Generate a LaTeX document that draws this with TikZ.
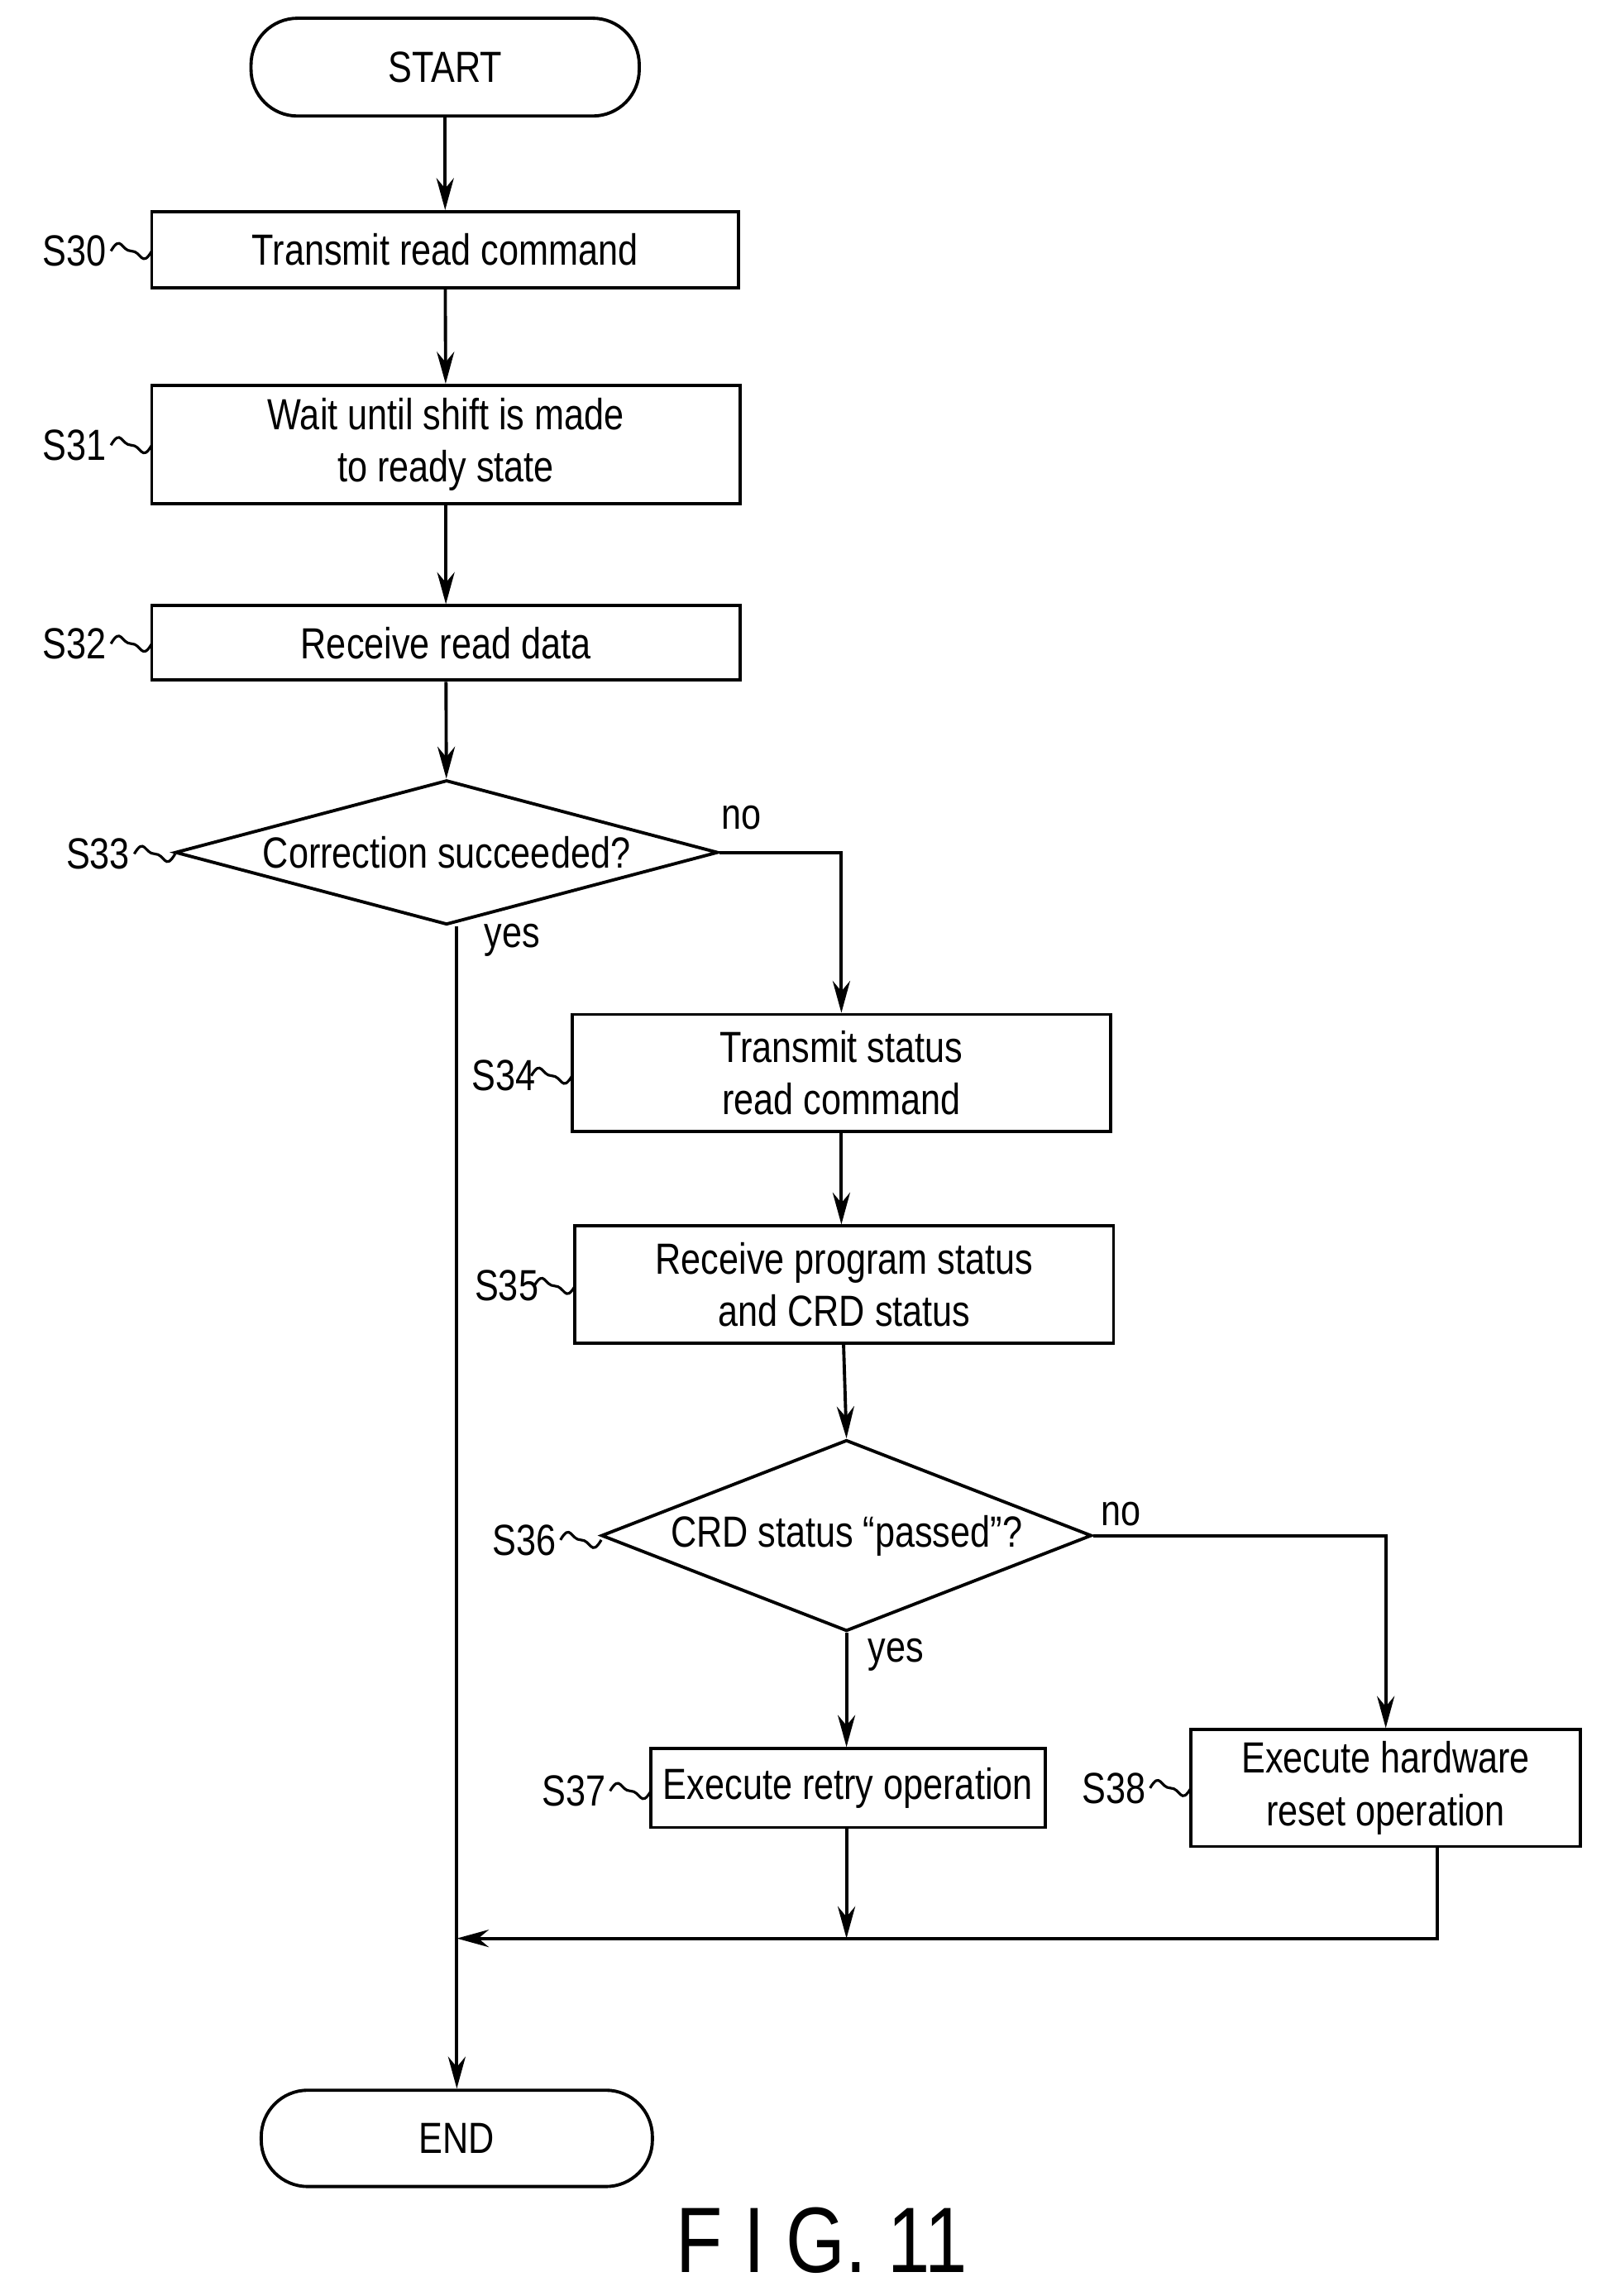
\documentclass[tikz,border=0pt]{standalone}
\usepackage{fontspec}
\setmainfont[FakeStretch=0.82]{Liberation Sans}
\usetikzlibrary{shapes.geometric,arrows.meta}
\begin{document}
\begin{tikzpicture}[x=0.01765cm,y=-0.01765cm,line width=1.1pt,
  box/.style={draw,align=center,inner sep=0pt},
  term/.style={draw,rounded corners=16pt,inner sep=0pt},
  arr/.style={-{Stealth[length=11pt,width=6pt]}},
  wave/.style={line width=0.9pt}]
\useasboundingbox (0,0) rectangle (1100,1573);
\tikzset{every node/.append style={font=\fontsize{15}{18}\selectfont}}
\newcommand{\wv}[1]{\draw[wave] #1 ++(-28,0) .. controls ++(7,-12) and ++(-7,0) .. ++(14,0) .. controls ++(7,0) and ++(-7,12) .. ++(14,0);}
\node[term,minimum width=266*0.01765cm,minimum height=67*0.01765cm] (st) at (305,46) {START};
\node[box,minimum width=402*0.01765cm,minimum height=52*0.01765cm] (s30) at (305,171) {Transmit read command};
\node[box,minimum width=403*0.01765cm,minimum height=81*0.01765cm] (s31) at (305.5,304.5) {Wait until shift is made\\to ready state};
\node[box,minimum width=403*0.01765cm,minimum height=51*0.01765cm] (s32) at (305.5,440.5) {Receive read data};
\node[diamond,draw,aspect=3.75,inner sep=0pt,minimum width=372*0.01765cm,minimum height=99*0.01765cm] (s33) at (306,584) {Correction succeeded?};
\node[box,minimum width=369*0.01765cm,minimum height=80*0.01765cm] (s34) at (576.5,735) {Transmit status\\read command};
\node[box,minimum width=369*0.01765cm,minimum height=80*0.01765cm] (s35) at (578.5,880) {Receive program status\\and CRD status};
\node[diamond,draw,aspect=2.56,inner sep=0pt,minimum width=336*0.01765cm,minimum height=131*0.01765cm] (s36) at (580,1052) {CRD status “passed”?};
\node[box,minimum width=270*0.01765cm,minimum height=54*0.01765cm] (s37) at (581,1225) {Execute retry operation};
\node[box,minimum width=267*0.01765cm,minimum height=80*0.01765cm] (s38) at (949.5,1225) {Execute hardware\\reset operation};
\node[term,minimum width=268*0.01765cm,minimum height=66*0.01765cm] (en) at (313,1465) {END};
% labels
\node[anchor=east,inner sep=1pt] (l30) at (76,172) {S30}; \wv{(104,172)}
\node[anchor=east,inner sep=1pt] (l31) at (76,305) {S31}; \wv{(104,305)}
\node[anchor=east,inner sep=1pt] (l32) at (76,441) {S32}; \wv{(104,441)}
\node[anchor=east,inner sep=1pt] (l33) at (92,585) {S33}; \wv{(120,585)}
\node[anchor=east,inner sep=1pt] (l34) at (370,737) {S34}; \wv{(392,737)}
\node[anchor=east,inner sep=1pt] (l35) at (372,881) {S35}; \wv{(394,881)}
\node[anchor=east,inner sep=1pt] (l36) at (384,1055) {S36}; \wv{(412,1055)}
\node[anchor=east,inner sep=1pt] (l37) at (418,1227) {S37}; \wv{(446,1227)}
\node[anchor=east,inner sep=1pt] (l38) at (788,1225) {S38}; \wv{(816,1225)}
\node (no1) at (508,560) {no};
\node (yes1) at (351,644) {yes};
\node (no2) at (768,1037) {no};
\node (yes2) at (614,1134) {yes};
\node[font=\fontsize{32}{36}\selectfont] (fig) at (563,1535) {F I G. 11};
% connectors
\draw[arr] (st) -- (s30);
\draw[arr] (s30) -- (s31);
\draw[arr] (s31) -- (s32);
\draw[arr] (s32) -- (s33);
\draw[arr] (s33.east) -| (s34.north);
\draw[arr] (s34) -- (s35.north -| s34.south);
\draw[arr] (s35.south -| 578,0) -- (s36.north);
\draw[arr] (s36.east) -| (s38.north);
\draw[arr] (s36.south) -- (s37.north -| s36.south);
\coordinate (m1) at (580,1328);
\coordinate (m2) at (313,1328);
\draw[arr] (s33.south -| 313,0) -- (en.north);
\draw[arr] (s37.south -| m1) -- (m1);
\draw[arr] (s38.south -| 985,0) |- (m2);
\end{tikzpicture}
\end{document}
